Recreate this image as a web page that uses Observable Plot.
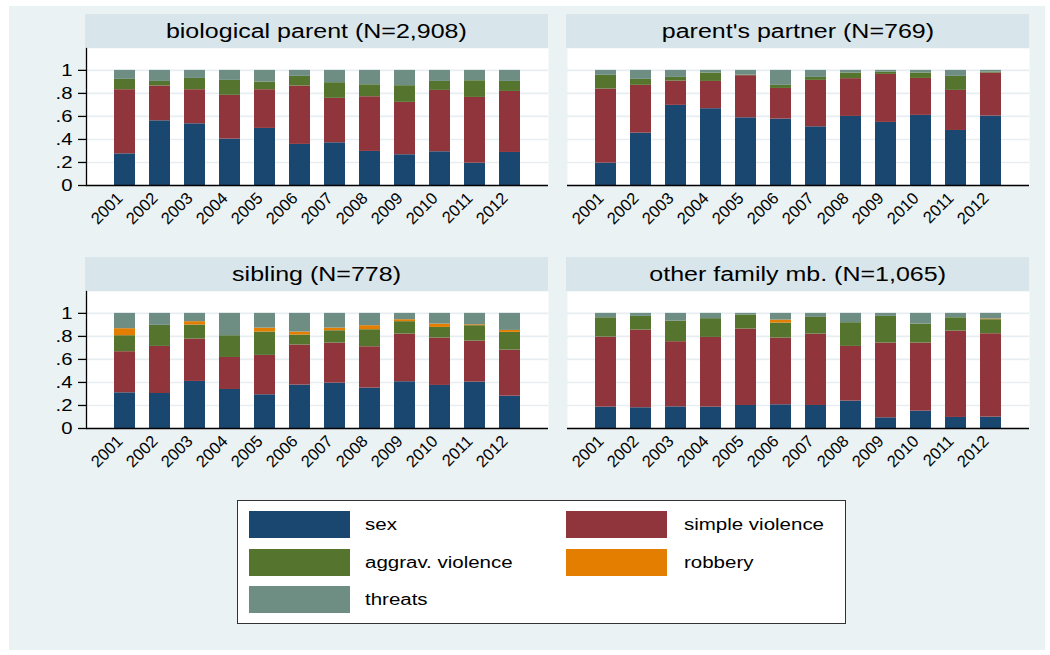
<!DOCTYPE html>
<html><head><meta charset="utf-8">
<script src="https://cdn.jsdelivr.net/npm/d3@7"></script>
<script src="https://cdn.jsdelivr.net/npm/@observablehq/plot@0.6"></script>
<style>
body{margin:0;background:#fff;font-family:"Liberation Sans",Arial,sans-serif;}
#root{position:relative;width:1050px;height:655px;overflow:hidden;background:#fff;}
.abs{position:absolute;}
.hdr{background:#d8e5ea;text-align:center;font-size:20px;line-height:34px;color:#000;white-space:nowrap;}
.hdr span{display:inline-block;transform:scaleX(1.25);transform-origin:center;}
.lgtxt{font-size:16px;color:#000;white-space:nowrap;transform:scaleX(1.28);transform-origin:left center;line-height:27px;}
</style></head><body><div id="root"></div>
<script>
const years = ["2001","2002","2003","2004","2005","2006","2007","2008","2009","2010","2011","2012"];
const categories = ["sex","simple violence","aggrav. violence","robbery","threats"];
const colors = ["#1a476f","#90353b","#55752f","#e37e00","#6e8e84"];
const panelTitles = ["biological parent (N=2,908)","parent's partner (N=769)","sibling (N=778)","other family mb. (N=1,065)"];
const yTicks = [0, 0.2, 0.4, 0.6, 0.8, 1];
const yTickLabels = ["0", ".2", ".4", ".6", ".8", "1"];

// biological parent
const bioSex     = [.275,.562,.536,.403,.496,.357,.371,.296,.267,.293,.194,.287];
const bioSimple  = [.557,.302,.296,.380,.336,.507,.386,.475,.455,.533,.571,.530];
const bioAggrav  = [.090,.040,.098,.130,.067,.084,.136,.104,.145,.078,.145,.087];
const bioRobbery = [0,0,0,0,0,0,0,0,0,0,0,0];
const bioThreats = [.078,.096,.070,.087,.101,.052,.107,.125,.133,.096,.090,.096];
// parent's partner
const ppSex      = [.194,.455,.696,.667,.588,.577,.510,.600,.548,.609,.478,.603];
const ppSimple   = [.644,.415,.211,.237,.366,.266,.403,.328,.417,.321,.348,.374];
const ppAggrav   = [.119,.052,.032,.073,.005,.027,.026,.049,.021,.047,.122,.009];
const ppRobbery  = [0,0,0,0,0,0,0,0,0,0,0,0];
const ppThreats  = [.043,.078,.061,.023,.041,.130,.061,.023,.014,.023,.052,.014];
// sibling
const sibSex     = [.310,.304,.409,.339,.293,.377,.394,.351,.406,.374,.403,.281];
const sibSimple  = [.357,.409,.368,.278,.342,.348,.348,.359,.414,.412,.356,.400];
const sibAggrav  = [.139,.183,.122,.189,.203,.087,.107,.148,.108,.092,.134,.154];
const sibRobbery = [.061,0,.029,0,.034,.026,.023,.035,.017,.029,.008,.017];
const sibThreats = [.133,.104,.072,.194,.128,.162,.128,.107,.055,.093,.099,.148];
// other family member
const ofSex      = [.186,.180,.188,.186,.200,.206,.200,.238,.093,.151,.096,.099];
const ofSimple   = [.608,.675,.566,.605,.664,.580,.620,.475,.649,.591,.750,.724];
const ofAggrav   = [.168,.119,.179,.163,.122,.130,.145,.206,.232,.165,.116,.122];
const ofRobbery  = [0,0,0,0,0,.026,0,0,0,0,0,.006];
const ofThreats  = [.038,.026,.067,.046,.014,.058,.035,.081,.026,.093,.038,.049];

const panelSeries = [
  [bioSex,bioSimple,bioAggrav,bioRobbery,bioThreats],
  [ppSex,ppSimple,ppAggrav,ppRobbery,ppThreats],
  [sibSex,sibSimple,sibAggrav,sibRobbery,sibThreats],
  [ofSex,ofSimple,ofAggrav,ofRobbery,ofThreats]
];

const root = document.getElementById("root");
const bg = document.createElement("div");
bg.className = "abs";
Object.assign(bg.style,{left:"9px",top:"6px",width:"1036px",height:"644px",background:"#eaf2f3"});
root.appendChild(bg);

const layout = [
  {plotLeft:86, headerTop:14, showY:true},
  {plotLeft:567, headerTop:14, showY:false},
  {plotLeft:86, headerTop:257, showY:true},
  {plotLeft:567, headerTop:257, showY:false}
];
const plotW = 462, plotH = 137, headerH = 34;

function stretchText(svg, sel, s){
  svg.querySelectorAll(sel).forEach(t=>{
    const tr = t.getAttribute("transform") || "";
    const x = t.getAttribute("x");
    if (x != null && !isNaN(+x)) t.setAttribute("x", (+x)/s);
    t.setAttribute("transform", `${tr} scale(${s},1)`);
  });
}

panelTitles.forEach((title, p) => {
  const L = layout[p];
  const hdr = document.createElement("div");
  hdr.className = "abs hdr";
  Object.assign(hdr.style,{left:(L.plotLeft-1)+"px",top:L.headerTop+"px",width:(plotW+1)+"px",height:headerH+"px"});
  const sp = document.createElement("span"); sp.textContent = title; hdr.appendChild(sp);
  root.appendChild(hdr);

  const series = panelSeries[p];
  const data = years.flatMap((yr,i)=>categories.map((c,j)=>({year:yr, cat:c, value:series[j][i]})));
  const mL = 50;
  const marks = [
    Plot.frame({fill:"white", stroke:null}),
    Plot.gridY(yTicks, {stroke:"#e6eef2", strokeOpacity:1, strokeWidth:1.6}),
    Plot.barY(data, {x:"year", y:"value", fill:"cat", order:categories, inset:0}),
    Plot.ruleY([0], {stroke:"black", strokeWidth:1.3}),
    Plot.axisX({tickRotate:-45, tickSize:0, tickPadding:10, dx:-5, fontSize:16.5, label:null})
  ];
  if (L.showY) {
    marks.push(Plot.axisY({ticks:yTicks, tickFormat:(d)=>yTickLabels[yTicks.indexOf(d)], tickSize:8, tickPadding:6, fontSize:16, label:null, strokeWidth:1.3}));
    marks.push(Plot.frame({anchor:"left", stroke:"black", strokeWidth:1.3}));
  }
  const chart = Plot.plot({
    width: mL + plotW, height: plotH + 60,
    marginLeft: mL, marginRight: 0, marginTop: 0, marginBottom: 60,
    style:{background:"transparent", fontFamily:"Liberation Sans, Arial, sans-serif", fontSize:"16px", color:"black", overflow:"visible"},
    x:{type:"band", domain:years, paddingInner:0.4, paddingOuter:0.75, axis:null},
    y:{domain:[0,1.19], axis:null},
    color:{domain:categories, range:colors},
    marks
  });
  chart.classList.add("abs");
  chart.style.left = (L.plotLeft - mL) + "px";
  chart.style.top = (L.headerTop + headerH) + "px";
  root.appendChild(chart);
  stretchText(chart, 'g[aria-label="y-axis tick label"] text', 1.27);
});

// legend
const lg = document.createElement("div");
lg.className = "abs";
Object.assign(lg.style,{left:"237px",top:"500px",width:"607px",height:"122px",background:"#fff",border:"1.5px solid #333"});
root.appendChild(lg);
const legendPos = [
  {sx:249, tx:365, y:511},
  {sx:566, tx:684, y:511},
  {sx:249, tx:365, y:549},
  {sx:566, tx:684, y:549},
  {sx:249, tx:365, y:586}
];
categories.forEach((c,i)=>{
  const P = legendPos[i];
  const sw = document.createElement("div"); sw.className="abs";
  Object.assign(sw.style,{left:P.sx+"px",top:P.y+"px",width:"101px",height:"27px",background:colors[i]});
  root.appendChild(sw);
  const tx = document.createElement("div"); tx.className="abs lgtxt";
  Object.assign(tx.style,{left:P.tx+"px",top:P.y+"px",height:"27px"});
  tx.textContent = c;
  root.appendChild(tx);
});
</script></body></html>
